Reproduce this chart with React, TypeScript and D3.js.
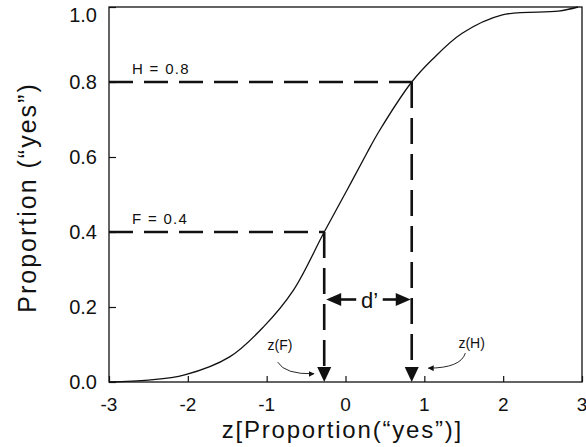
import React, { useEffect, useRef } from 'react';
import * as d3 from 'd3';

// curve: z score vs proportion "yes"
const curveZ = [-3, -2.5, -2.04, -1.47, -1.04, -0.66, -0.27, 0.02, 0.27, 0.43, 0.84, 1.1, 1.48, 1.99, 2.7, 2.95];
const curveP = [0, 0.005, 0.019, 0.067, 0.147, 0.245, 0.4, 0.512, 0.61, 0.67, 0.8, 0.86, 0.93, 0.979, 0.989, 1.0];

const xTicks = [-3, -2, -1, 0, 1, 2, 3];
const yTicks = [0, 0.2, 0.4, 0.6, 0.8, 1.0];

// the two marked points
const hit = { label: 'H = 0.8', z: 0.84, p: 0.8 };
const fa = { label: 'F = 0.4', z: -0.27, p: 0.4 };
const dPrimeP = 0.22;

export default function App() {
  const svgRef = useRef<SVGSVGElement>(null);
  const width = 586;
  const height = 447;
  const margin = { top: 7, right: 4, bottom: 65, left: 109 };

  useEffect(() => {
    const svg = d3.select(svgRef.current);
    svg.selectAll('*').remove();

    const x = d3.scaleLinear().domain([-3, 3]).range([margin.left, width - margin.right]);
    const y = d3.scaleLinear().domain([0, 1]).range([height - margin.bottom, margin.top]);
    const ink = '#111';
    const font = 'Liberation Sans, Arial, sans-serif';

    const defs = svg.append('defs');
    defs
      .append('marker')
      .attr('id', 'small-head')
      .attr('viewBox', '0 0 10 10')
      .attr('refX', 9)
      .attr('refY', 5)
      .attr('markerWidth', 6)
      .attr('markerHeight', 6)
      .attr('markerUnits', 'userSpaceOnUse')
      .attr('orient', 'auto')
      .append('path')
      .attr('d', 'M0,0 L10,5 L0,10 Z')
      .attr('fill', ink);

    // frame
    svg
      .append('rect')
      .attr('x', x(-3))
      .attr('y', y(1))
      .attr('width', x(3) - x(-3))
      .attr('height', y(0) - y(1))
      .attr('fill', 'none')
      .attr('stroke', ink)
      .attr('stroke-width', 1.3);

    // y axis (ticks inward)
    const yAxis = svg
      .append('g')
      .attr('transform', `translate(${x(-3)},0)`)
      .call(d3.axisRight(y).tickValues(yTicks).tickSize(7).tickFormat(() => ''));
    yAxis.select('.domain').remove();
    yAxis.selectAll('line').attr('stroke', ink).attr('stroke-width', 1.2);

    svg
      .append('g')
      .selectAll('text')
      .data(yTicks)
      .join('text')
      .attr('x', x(-3) - 12)
      .attr('y', (d) => Math.max(y(d) + 7, 22))
      .attr('text-anchor', 'end')
      .attr('font-family', font)
      .attr('font-size', 20)
      .attr('fill', ink)
      .text((d) => d3.format('.1f')(d));

    // x axis (ticks inward)
    const xAxis = svg
      .append('g')
      .attr('transform', `translate(0,${y(0)})`)
      .call(d3.axisTop(x).tickValues(xTicks).tickSize(6).tickFormat(() => ''));
    xAxis.select('.domain').remove();
    xAxis.selectAll('line').attr('stroke', ink).attr('stroke-width', 1.2);

    svg
      .append('g')
      .selectAll('text')
      .data(xTicks)
      .join('text')
      .attr('x', (d) => x(d))
      .attr('y', y(0) + 29)
      .attr('text-anchor', 'middle')
      .attr('font-family', font)
      .attr('font-size', 19)
      .attr('fill', ink)
      .text((d) => String(d));

    // axis titles
    svg
      .append('text')
      .attr('x', x(-0.04))
      .attr('y', 438)
      .attr('text-anchor', 'middle')
      .attr('font-family', font)
      .attr('font-size', 24)
      .attr('letter-spacing', 1.8)
      .attr('fill', ink)
      .text('z[Proportion(\u201Cyes\u201D)]');

    svg
      .append('text')
      .attr('transform', `translate(36,${(y(0) + y(1)) / 2 + 3}) rotate(-90)`)
      .attr('text-anchor', 'middle')
      .attr('font-family', font)
      .attr('font-size', 25)
      .attr('letter-spacing', 2)
      .attr('fill', ink)
      .text('Proportion (\u201Cyes\u201D)');

    // the curve
    const line = d3
      .line<number>()
      .x((d) => x(d))
      .y((d, i) => y(curveP[i]))
      .curve(d3.curveCatmullRom.alpha(0.5));
    svg
      .append('path')
      .attr('d', line(curveZ))
      .attr('fill', 'none')
      .attr('stroke', ink)
      .attr('stroke-width', 1.3);

    // dashed guides + down arrows
    const headH = 15;
    const headW = 7;
    [hit, fa].forEach((pt) => {
      svg
        .append('path')
        .attr('d', `M${x(-3)},${y(pt.p)} H${x(pt.z)}`)
        .attr('stroke', ink)
        .attr('stroke-width', 2.4)
        .attr('stroke-dasharray', '24,11')
        .attr('fill', 'none');
      svg
        .append('path')
        .attr('d', `M${x(pt.z)},${y(pt.p)} V${y(0) - headH}`)
        .attr('stroke', ink)
        .attr('stroke-width', 2.6)
        .attr('stroke-dasharray', '26,10')
        .attr('fill', 'none');
      svg
        .append('path')
        .attr(
          'd',
          `M${x(pt.z) - headW},${y(0) - headH} L${x(pt.z) + headW},${y(0) - headH} L${x(pt.z)},${y(0)} Z`
        )
        .attr('fill', ink);
      svg
        .append('text')
        .attr('x', x(-3) + 23)
        .attr('y', y(pt.p) - 8)
        .attr('font-family', font)
        .attr('font-size', 15)
        .attr('letter-spacing', 1.3)
        .attr('fill', ink)
        .text(pt.label);
    });

    // d' arrows
    const dy = y(dPrimeP);
    const xl = x(fa.z) + 2;
    const xr = x(hit.z) - 1;
    const ah = 15;
    const aw = 6.5;
    svg
      .append('path')
      .attr('d', `M${xl + ah - 1},${dy} H${xl + 30}`)
      .attr('stroke', ink)
      .attr('stroke-width', 2.6);
    svg
      .append('path')
      .attr('d', `M${xl},${dy} L${xl + ah},${dy - aw} L${xl + ah},${dy + aw} Z`)
      .attr('fill', ink);
    svg
      .append('path')
      .attr('d', `M${xr - 28},${dy} H${xr - ah + 1}`)
      .attr('stroke', ink)
      .attr('stroke-width', 2.6);
    svg
      .append('path')
      .attr('d', `M${xr},${dy} L${xr - ah},${dy - aw} L${xr - ah},${dy + aw} Z`)
      .attr('fill', ink);
    svg
      .append('text')
      .attr('x', (xl + xr) / 2 + 1)
      .attr('y', dy + 8)
      .attr('text-anchor', 'middle')
      .attr('font-family', font)
      .attr('font-size', 22)
      .attr('fill', ink)
      .text('d\u2019');

    // z(F) and z(H) callouts
    svg
      .append('text')
      .attr('x', x(-0.83))
      .attr('y', y(0.1) + 5)
      .attr('text-anchor', 'middle')
      .attr('font-family', font)
      .attr('font-size', 14)
      .attr('fill', ink)
      .text('z(F)');
    svg
      .append('path')
      .attr(
        'd',
        `M${x(-0.86)},${y(0.053)} Q${x(-0.77)},${y(0.02)} ${x(-0.4)},${y(0.022)}`
      )
      .attr('fill', 'none')
      .attr('stroke', ink)
      .attr('stroke-width', 0.9)
      .attr('marker-end', 'url(#small-head)');

    svg
      .append('text')
      .attr('x', x(1.6))
      .attr('y', y(0.104) + 5)
      .attr('text-anchor', 'middle')
      .attr('font-family', font)
      .attr('font-size', 14)
      .attr('fill', ink)
      .text('z(H)');
    svg
      .append('path')
      .attr(
        'd',
        `M${x(1.52)},${y(0.077)} Q${x(1.46)},${y(0.037)} ${x(1.05)},${y(0.037)}`
      )
      .attr('fill', 'none')
      .attr('stroke', ink)
      .attr('stroke-width', 0.9)
      .attr('marker-end', 'url(#small-head)');
  }, []);

  return (
    <svg
      ref={svgRef}
      width={width}
      height={height}
      style={{ position: 'absolute', left: 0, top: 0, background: '#fff' }}
    />
  );
}
